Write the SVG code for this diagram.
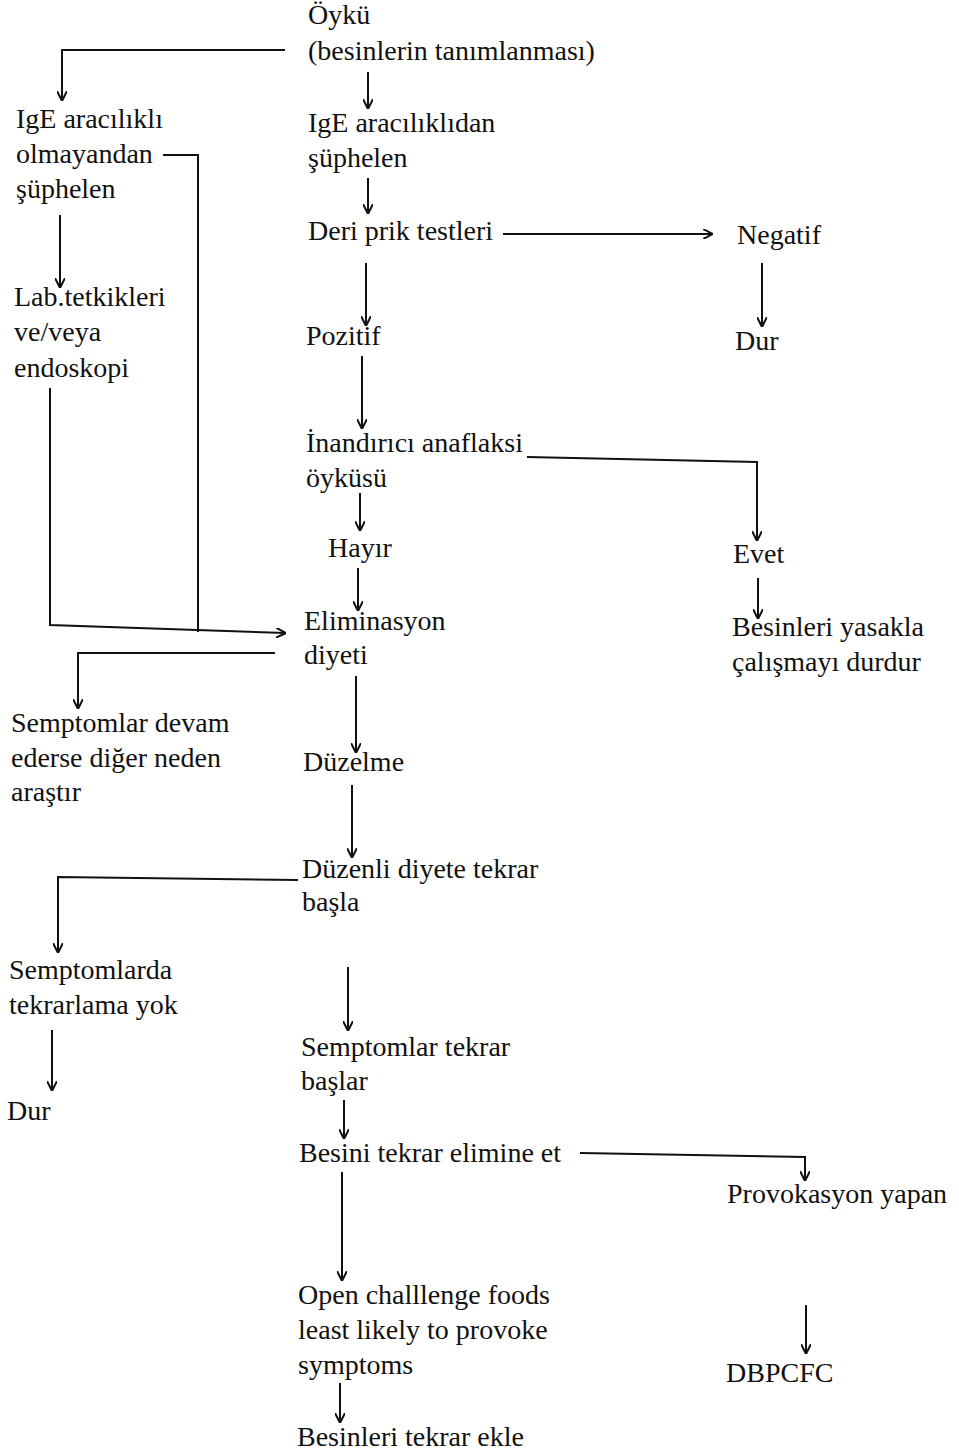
<svg xmlns="http://www.w3.org/2000/svg" width="959" height="1456" viewBox="0 0 959 1456">
<style>
text{font-family:"Liberation Serif","Times New Roman",serif;font-size:28px;fill:#111}
.c path{fill:none;stroke:#111;stroke-width:2}
</style>
<defs>
<marker id="ah" viewBox="0 0 10 10" refX="9" refY="5" markerWidth="10" markerHeight="10" markerUnits="userSpaceOnUse" orient="auto">
<path d="M0,0 L10,5 L0,10" fill="none" stroke="#111" stroke-width="2"/>
</marker>
</defs>
<rect width="959" height="1456" fill="#fff"/>
<g class="c" id="connectors">
<path d="M285,50 H62 V100" marker-end="url(#ah)"/>
<path d="M368,72 V108" marker-end="url(#ah)"/>
<path d="M368,178 V213" marker-end="url(#ah)"/>
<path d="M503,234 H712" marker-end="url(#ah)"/>
<path d="M762,263 V326" marker-end="url(#ah)"/>
<path d="M163,155 H198 V632"/>
<path d="M60,215 V287" marker-end="url(#ah)"/>
<path d="M50,388 V625 L285,633" marker-end="url(#ah)"/>
<path d="M366,263 V325" marker-end="url(#ah)"/>
<path d="M362,356 V428" marker-end="url(#ah)"/>
<path d="M527,457 L757,462 V540" marker-end="url(#ah)"/>
<path d="M758,578 V618" marker-end="url(#ah)"/>
<path d="M360,493 V530" marker-end="url(#ah)"/>
<path d="M358,568 V610" marker-end="url(#ah)"/>
<path d="M275,653 H78 V708" marker-end="url(#ah)"/>
<path d="M356,676 V752" marker-end="url(#ah)"/>
<path d="M352,785 V857" marker-end="url(#ah)"/>
<path d="M298,880 L58,877 V952" marker-end="url(#ah)"/>
<path d="M52,1030 V1090" marker-end="url(#ah)"/>
<path d="M348,967 V1030" marker-end="url(#ah)"/>
<path d="M344,1100 V1138" marker-end="url(#ah)"/>
<path d="M580,1153 L805,1157 V1180" marker-end="url(#ah)"/>
<path d="M806,1305 V1353" marker-end="url(#ah)"/>
<path d="M342,1172 V1280" marker-end="url(#ah)"/>
<path d="M340,1383 V1422" marker-end="url(#ah)"/>
</g>
<g id="oyku"><text x="308" y="24">Öykü</text><text x="308" y="60">(besinlerin tanımlanması)</text></g>
<g id="ige-ara"><text x="308" y="132">IgE aracılıklıdan</text><text x="308" y="167">şüphelen</text></g>
<g id="deri"><text x="308" y="240">Deri prik testleri</text></g>
<g id="negatif"><text x="737" y="244">Negatif</text></g>
<g id="dur1"><text x="735" y="350">Dur</text></g>
<g id="ige-olm"><text x="16" y="128">IgE aracılıklı</text><text x="16" y="163">olmayandan</text><text x="16" y="198">şüphelen</text></g>
<g id="lab"><text x="14" y="306">Lab.tetkikleri</text><text x="14" y="341">ve/veya</text><text x="14" y="377">endoskopi</text></g>
<g id="pozitif"><text x="306" y="345">Pozitif</text></g>
<g id="inandirici"><text x="306" y="452">İnandırıcı anaflaksi</text><text x="306" y="487">öyküsü</text></g>
<g id="evet"><text x="733" y="563">Evet</text></g>
<g id="yasakla"><text x="732" y="636">Besinleri yasakla</text><text x="732" y="671">çalışmayı durdur</text></g>
<g id="hayir"><text x="328" y="557">Hayır</text></g>
<g id="eliminasyon"><text x="304" y="630">Eliminasyon</text><text x="304" y="664">diyeti</text></g>
<g id="devam"><text x="11" y="732">Semptomlar devam</text><text x="11" y="767">ederse diğer neden</text><text x="11" y="801">araştır</text></g>
<g id="duzelme"><text x="303" y="771">Düzelme</text></g>
<g id="duzenli"><text x="302" y="878">Düzenli diyete tekrar</text><text x="302" y="911">başla</text></g>
<g id="tekrarlama"><text x="9" y="979">Semptomlarda</text><text x="9" y="1014">tekrarlama yok</text></g>
<g id="dur2"><text x="7" y="1120">Dur</text></g>
<g id="semp-tekrar"><text x="301" y="1056">Semptomlar tekrar</text><text x="301" y="1090">başlar</text></g>
<g id="besini"><text x="299" y="1162">Besini tekrar elimine et</text></g>
<g id="provokasyon"><text x="727" y="1203">Provokasyon yapan</text></g>
<g id="dbpcfc"><text x="726" y="1382">DBPCFC</text></g>
<g id="open"><text x="298" y="1304">Open challlenge foods</text><text x="298" y="1339">least likely to provoke</text><text x="298" y="1374">symptoms</text></g>
<g id="ekle"><text x="297" y="1446">Besinleri tekrar ekle</text></g>
</svg>
